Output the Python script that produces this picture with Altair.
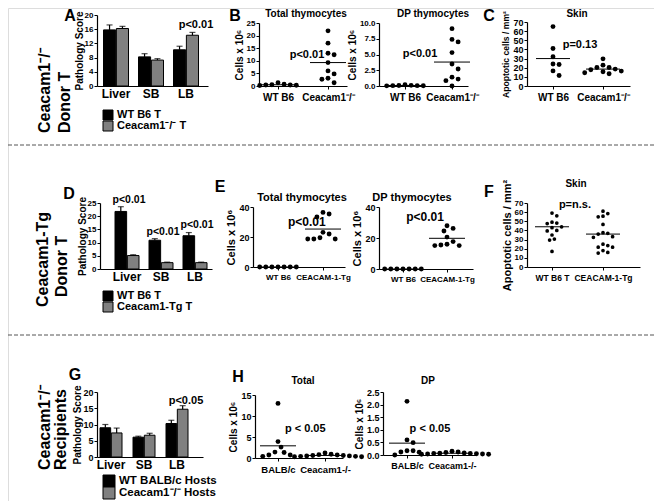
import altair as alt
import pandas as pd

FONT = "Liberation Sans"
W, H = 646, 493


def px(x):
    return x - 8


def py(y):
    return y - 8


# ------------------------------------------------------------------ data
organs = ["Liver", "SB", "LB"]

A_groups = ["WT B6 T", "Ceacam1⁻/⁻ T"]
A_wt = [15.8, 8.2, 10.2]
A_wt_sem = [1.4, 0.9, 1.0]
A_ko = [16.2, 7.3, 14.3]
A_ko_sem = [0.6, 0.4, 0.8]

D_groups = ["WT B6 T", "Ceacam1-Tg T"]
D_wt = [21.8, 10.9, 12.6]
D_wt_sem = [1.8, 0.6, 1.2]
D_tg = [5.1, 2.4, 2.4]
D_tg_sem = [0.3, 0.2, 0.2]

G_groups = ["WT BALB/c Hosts", "Ceacam1⁻/⁻  Hosts"]
G_wt = [9.0, 6.1, 10.3]
G_wt_sem = [1.0, 0.3, 1.0]
G_ko = [7.4, 6.7, 14.7]
G_ko_sem = [1.5, 0.6, 1.1]

B_labels = ["WT B6", "Ceacam1⁻/⁻"]
B1_wt = [0.4, 0.3, 1.3, 0.7, 0.5, 0.2, 0.4]
B1_ko = [21.9, 17.0, 13.0, 12.4, 9.3, 6.0, 4.8, 3.1, 2.7, 1.3]
B1_means = [0.5, 9.3]
B2_wt = [0.05, 0.10, 0.20, 0.08, 0.05, 0.03, 0.02]
B2_ko = [9.1, 7.4, 7.0, 5.3, 3.5, 2.7, 1.4, 1.1, 0.85, 0.0]
B2_means = [0.08, 3.8]

C_labels = ["WT B6", "Ceacam1⁻/⁻"]
C_wt = [65.0, 41.0, 32.0, 24.0, 23.5, 16.5, 11.5]
C_ko = [29.7, 22.8, 20.3, 20.3, 18.5, 17.8, 16.3, 15.6, 14.5, 13.4]
C_means = [30.0, 18.5]

E_labels = ["WT B6", "CEACAM-1-Tg"]
E1_wt = [0, 0, 0, 0, 0, 0, 0]
E1_tg = [36.4, 35.3, 33.3, 23.1, 22.0, 19.5, 18.7, 18.7, 18.7]
E1_means = [0.0, 25.3]
E2_wt = [0, 0, 0, 0, 0, 0, 0]
E2_tg = [27.9, 26.2, 24.5, 20.6, 17.7, 16.0, 15.5, 15.1, 15.1]
E2_means = [0.0, 19.8]

F_labels = ["WT B6 T", "CEACAM-1-Tg"]
F_wt = [59, 56, 49, 48, 47.5, 44, 43, 40, 39.5, 35, 30.5, 29.5, 17]
F_tg = [61, 58.5, 55.6, 54.9, 46.6, 37.5, 36.8, 36, 33.2, 32.5, 24.9, 23.5,
        21.7, 21.7, 18, 15.9, 15.2]
F_means = [44.0, 36.0]

H_labels = ["BALB/c", "Ceacam1-/-"]
H1_wt = [13.0, 3.9, 2.6, 1.3, 1.4, 0.7, 0.7, 0.4]
H1_ko = [1.2, 0.9, 0.8, 0.7, 0.6, 0.6, 0.5, 0.5, 0.4, 0.4, 0.3, 0.3]
H1_means = [2.9, 0.6]
H2_wt = [2.13, 0.60, 0.49, 0.17, 0.17, 0.12, 0.11, 0.0]
H2_ko = [0.15, 0.12, 0.10, 0.08, 0.07, 0.06, 0.06, 0.05, 0.04, 0.04, 0.03, 0.03]
H2_means = [0.47, 0.07]

BAR_COLORS = ["#000000", "#808080"]


# ------------------------------------------------------------------ helpers
def swarm_offsets(values, ppu, d):
    """Horizontal pixel offsets so dots of diameter d do not overlap."""
    placed = []
    offs = [0.0] * len(values)
    order = sorted(range(len(values)), key=lambda i: -values[i])
    cands = [0.0]
    for m in range(1, 40):
        cands += [m * d * 0.5, -m * d * 0.5]
    for i in order:
        y = values[i] * ppu
        for cx in cands:
            if all((cx - a) ** 2 + (y - b) ** 2 >= (d * 0.98) ** 2 for a, b in placed):
                break
        placed.append((cx, y))
        offs[i] = cx
    return offs


def axis_style(lab_fs):
    return dict(labelFont=FONT, labelFontSize=lab_fs, labelFontWeight="bold",
                labelColor="black", domainColor="black", domainWidth=1.2,
                tickColor="black", tickWidth=1, grid=False)


def y_axis(x0, ticks, title, title_fs, lab_fs, fmt=None, tpad=2):
    kw = axis_style(lab_fs)
    kw.update(orient="left", offset=-px(x0), values=ticks, title=title,
              titleFont=FONT, titleFontSize=title_fs, titleFontWeight="bold",
              titleColor="black", titlePadding=tpad, titleAngle=270,
              tickSize=3, labelPadding=1)
    if fmt:
        kw["format"] = fmt
    return alt.Axis(**kw)


def legend_layer(groups, xbox, y1, y2, sym, fs):
    ldf = pd.DataFrame({"group": groups})
    Y = alt.Y("group:N", scale=alt.Scale(domain=groups, range=[py(y1), py(y2)],
                                         padding=0), axis=None)
    sq = alt.Chart(ldf).mark_square(size=sym * sym, stroke="black", strokeWidth=1,
                                    opacity=1).encode(
        x=alt.value(px(xbox)), y=Y,
        fill=alt.Fill("group:N", scale=alt.Scale(domain=groups, range=BAR_COLORS),
                      legend=None))
    tx = alt.Chart(ldf).mark_text(align="left", baseline="middle", font=FONT,
                                  fontSize=fs, fontWeight="bold", color="black").encode(
        x=alt.value(px(xbox + sym / 2 + 4)), y=Y, text="group:N")
    return alt.layer(sq, tx)


def bar_panel(groups, m1, s1, m2, s2, x0, x1, yz, yt, ymax, yticks, c0, step, bw,
              notes, note_dx, lab_fs, tick_fs, title_fs, note_fs):
    df = pd.DataFrame({"organ": organs + organs,
                       "group": [groups[0]] * 3 + [groups[1]] * 3,
                       "mean": m1 + m2, "sem": s1 + s2})
    pi = 1 - bw / step
    po = ((x1 - x0) / step - 3 + pi) / 2
    al = ((c0 - bw / 2) - x0) / ((x1 - x0) - step * (3 - pi))
    xs = alt.Scale(domain=organs, range=[px(x0), px(x1)], paddingInner=pi,
                   paddingOuter=po, align=al)
    xkw = axis_style(lab_fs)
    xkw.update(orient="bottom", offset=py(yz) - H, title=None, labelAngle=0,
               ticks=False, labelPadding=2)
    X = alt.X("organ:N", scale=xs, axis=alt.Axis(**xkw))
    XO = alt.XOffset("group:N", scale=alt.Scale(domain=groups, paddingInner=0.06))
    ys = alt.Scale(domain=[0, ymax], range=[py(yz), py(yt)], nice=False)
    yax = y_axis(x0, yticks, "Pathology Score", title_fs, tick_fs, tpad=0)
    base = alt.Chart(df)
    bars = base.mark_bar(stroke="black", strokeWidth=1).encode(
        x=X, xOffset=XO,
        y=alt.Y("mean:Q", scale=ys, axis=yax),
        color=alt.Color("group:N", scale=alt.Scale(domain=groups, range=BAR_COLORS),
                        legend=None))
    err = base.transform_calculate(top="datum.mean + datum.sem").mark_rule(
        color="black", strokeWidth=1.2).encode(
        x=X, xOffset=XO, y=alt.Y("mean:Q", scale=ys, axis=yax), y2="top:Q")
    cap = base.transform_calculate(top="datum.mean + datum.sem").mark_tick(
        color="black", thickness=1.2, size=6).encode(
        x=X, xOffset=XO, y=alt.Y("top:Q", scale=ys, axis=yax))
    ndf = pd.DataFrame({"organ": [n[0] for n in notes], "v": [n[1] for n in notes],
                        "t": [n[2] for n in notes]})
    txt = alt.Chart(ndf).mark_text(font=FONT, fontSize=note_fs, fontWeight="bold",
                                   color="black", dx=note_dx).encode(
        x=X, y=alt.Y("v:Q", scale=ys, axis=yax), text="t:N")
    return alt.layer(bars, err, cap, txt)


def dot_panel(labels, v0, v1, means, x0, x1, c0, c1, yz, yt, ymax, yticks, ytitle,
              d, notes, lab_fs, tick_fs, title_fs, note_fs, hw_px, fmt=None):
    ppu_x = c1 - c0
    dmin = (x0 - c0) / ppu_x
    dmax = 1 + (x1 - c1) / ppu_x
    ppu_y = (yz - yt) / ymax
    rows = []
    for gi, vals in enumerate([v0, v1]):
        offs = swarm_offsets(vals, ppu_y, d + 0.6)
        for v, o in zip(vals, offs):
            rows.append({"xpos": gi + o / ppu_x, "v": v})
    pts = pd.DataFrame(rows)
    hw = hw_px / ppu_x
    mdf = pd.DataFrame({"g": [0, 1], "m": means})
    xs = alt.Scale(domain=[dmin, dmax], range=[px(x0), px(x1)], nice=False, zero=False)
    xkw = axis_style(lab_fs)
    xkw.update(orient="bottom", offset=py(yz) - H, title=None, values=[0, 1],
               labelExpr=f"datum.value < 0.5 ? '{labels[0]}' : '{labels[1]}'",
               tickSize=3, labelFlush=False, labelOverlap=False, labelPadding=3,
               labelAngle=0)
    xax = alt.Axis(**xkw)
    ys = alt.Scale(domain=[0, ymax], range=[py(yz), py(yt)], nice=False, zero=True)
    yax = y_axis(x0, yticks, ytitle, title_fs, tick_fs, fmt)
    dots = alt.Chart(pts).mark_circle(color="black", opacity=1,
                                      size=3.1416 * d * d / 4).encode(
        x=alt.X("xpos:Q", scale=xs, axis=xax),
        y=alt.Y("v:Q", scale=ys, axis=yax))
    lines = alt.Chart(mdf).transform_calculate(
        xa=f"datum.g - {hw}", xb=f"datum.g + {hw}").mark_rule(
        color="black", strokeWidth=1).encode(
        x=alt.X("xa:Q", scale=xs, axis=xax), x2="xb:Q",
        y=alt.Y("m:Q", scale=ys, axis=yax))
    ndf = pd.DataFrame({"xn": [notes[0]], "v": [notes[1]], "t": [notes[2]]})
    txt = alt.Chart(ndf).mark_text(font=FONT, fontSize=note_fs, fontWeight="bold",
                                   color="black").encode(
        x=alt.X("xn:Q", scale=xs, axis=xax), y=alt.Y("v:Q", scale=ys, axis=yax),
        text="t:N")
    return alt.layer(dots, lines, txt)


def label(s, x, y, size, angle=None, align="center", baseline="alphabetic"):
    kw = dict(text=s, font=FONT, fontSize=size, fontWeight="bold", color="black",
              align=align, baseline=baseline)
    if angle is not None:
        kw["angle"] = angle
    return alt.Chart(alt.Data(values=[{}])).mark_text(**kw).encode(
        x=alt.value(px(x)), y=alt.value(py(y)))


def dash(y):
    return alt.Chart(alt.Data(values=[{}])).mark_rule(
        color="#555555", strokeWidth=1, strokeDash=[4, 2]).encode(
        x=alt.value(0), x2=alt.value(W), y=alt.value(py(y)))


CELLS = "Cells x 10⁶"
APOP = "Apoptotic cells / mm²"

panels = [
    bar_panel(A_groups, A_wt, A_wt_sem, A_ko, A_ko_sem, 97, 208, 86, 15, 20,
              [0, 4, 8, 12, 16, 20], 116, 35, 25,
              [("LB", 17.2, "p<0.01")], 10, 12, 8, 10, 11),
    legend_layer(A_groups, 108, 115, 126, 10, 11),
    bar_panel(D_groups, D_wt, D_wt_sem, D_tg, D_tg_sem, 100, 212, 269, 203, 25,
              [0, 5, 10, 15, 20, 25], 127, 34, 24,
              [("Liver", 26.1, "p<0.01"), ("SB", 14.0, "p<0.01"),
               ("LB", 16.7, "p<0.01")], 2, 12, 8, 10, 10.5),
    legend_layer(D_groups, 108, 296, 307, 10, 11),
    bar_panel(G_groups, G_wt, G_wt_sem, G_ko, G_ko_sem, 97, 203, 457, 392, 20,
              [0, 5, 10, 15, 20], 111, 33, 22,
              [("LB", 17.2, "p<0.05")], 9, 12, 9, 10, 11),
    legend_layer(G_groups, 109, 481, 493, 12, 11.5),
    dot_panel(B_labels, B1_wt, B1_ko, B1_means, 259, 347, 278, 328, 86, 23, 25,
              [0, 5, 10, 15, 20, 25], CELLS, 5.5, (0.58, 12.3, "p<0.01"),
              10, 8, 10, 11, 18),
    dot_panel(B_labels, B2_wt, B2_ko, B2_means, 379, 468, 405, 452, 86, 23, 10,
              [0, 2.5, 5, 7.5, 10], CELLS, 5.5, (0.32, 5.1, "p<0.01"),
              10, 8, 10, 11, 18, ".1f"),
    dot_panel(C_labels, C_wt, C_ko, C_means, 527, 630, 553, 603, 86, 22, 70,
              [0, 10, 20, 30, 40, 50, 60, 70], APOP, 5.5, (0.54, 44.8, "p=0.13"),
              10, 9, 8.6, 11, 17),
    dot_panel(E_labels, E1_wt, E1_tg, E1_means, 253, 345, 278, 323, 267, 207, 40,
              [0, 20, 40], CELLS, 5.5, (0.64, 30.0, "p<0.01"),
              8, 9, 11, 12, 18),
    dot_panel(E_labels, E2_wt, E2_tg, E2_means, 379, 473, 403, 447, 269, 207, 40,
              [0, 20, 40], CELLS, 5.5, (0.5, 33.5, "p<0.01"),
              8, 9, 11, 12, 18),
    dot_panel(F_labels, F_wt, F_tg, F_means, 527, 640, 552, 603, 267, 203, 70,
              [0, 10, 20, 30, 40, 50, 60, 70], APOP, 4.2, (0.45, 67.8, "p=n.s."),
              8.5, 8, 11, 11, 17),
    dot_panel(H_labels, H1_wt, H1_ko, H1_means, 255, 343, 278, 325, 458, 395, 15,
              [0, 5, 10, 15], CELLS, 5.5, (0.58, 6.9, "p < 0.05"),
              9.5, 9, 10, 11, 18),
    dot_panel(H_labels, H2_wt, H2_ko, H2_means, 383, 476, 407, 452, 455, 392, 2.5,
              [0, 0.5, 1, 1.5, 2, 2.5], CELLS, 5.5, (0.51, 1.03, "p < 0.05"),
              9, 9, 10, 11, 18, ".1f"),
]

texts = [
    label("A", 70, 21, 16), label("B", 235, 21, 16), label("C", 489, 21, 16),
    label("D", 69, 199, 16), label("E", 220, 192, 16), label("F", 489, 197, 16),
    label("G", 75, 380, 16), label("H", 238, 382, 16),
    label("Total thymocytes", 306, 17, 10), label("DP thymocytes", 433, 17, 10),
    label("Skin", 577, 17, 10),
    label("Total thymocytes", 302, 201, 11), label("DP thymocytes", 412, 201, 11),
    label("Skin", 576, 187, 10),
    label("Total", 303, 384, 10), label("DP", 428, 384, 10),
    # row labels (rotated, read bottom-to-top, both lines start at the same height)
    label("Ceacam1⁻/⁻", 50, 133, 16, angle=270, align="left"),
    label("Donor T", 70, 133, 16, angle=270, align="left"),
    label("Ceacam1-Tg", 48, 307, 16, angle=270, align="left"),
    label("Donor T", 67, 297, 16, angle=270, align="left"),
    label("Ceacam1⁻/⁻", 50, 470, 16, angle=270, align="left"),
    label("Recipients", 66, 470, 16, angle=270, align="left"),
    dash(145), dash(335),
]

chart = alt.layer(*panels, *texts).resolve_scale(
    x="independent", y="independent", color="independent", fill="independent",
    xOffset="independent"
).resolve_axis(x="independent", y="independent").properties(
    width=W, height=H, padding=0, autosize=alt.AutoSizeParams(type="none")
).configure_view(strokeWidth=0).configure(background="white")

chart.save("out.html", embed_options={"renderer": "svg", "actions": False})
